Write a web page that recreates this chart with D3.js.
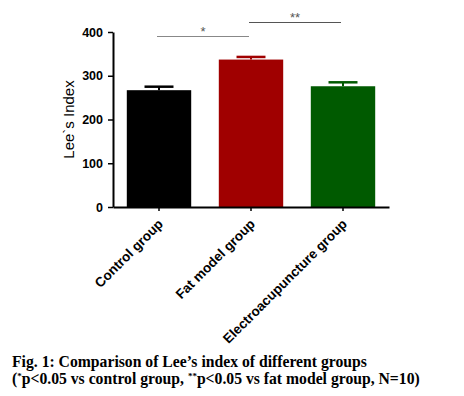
<!DOCTYPE html>
<html>
<head>
<meta charset="utf-8">
<script src="https://cdn.jsdelivr.net/npm/d3@7"></script>
<style>
  body { margin: 0; background: #fff; }
</style>
</head>
<body>
<script>
const groups = ["Control group", "Fat model group", "Electroacupuncture group"];
const means = [267, 337, 276];
const errors = [8, 6, 9];
const colors = ["#000000", "#a00000", "#005a00"];
const yTicks = [0, 100, 200, 300, 400];
const sigPairs = [
    {from: 0, to: 1, label: "*", level: 0},
    {from: 1, to: 2, label: "**", level: 1}
];

const width = 464;
const height = 396;
const plot = {left: 113, right: 389, top: 32, bottom: 207};

const svg = d3.select("body")
    .append("svg")
    .attr("width", width)
    .attr("height", height);

const xScale = d3.scaleBand()
    .domain(groups)
    .range([plot.left, plot.right])
    .paddingInner(0.3)
    .paddingOuter(0.15);

const yScale = d3.scaleLinear()
    .domain([0, 400])
    .range([plot.bottom, plot.top]);

// bars
svg.selectAll(".bar")
    .data(groups)
    .enter().append("rect")
    .attr("class", "bar")
    .attr("x", d => xScale(d))
    .attr("width", xScale.bandwidth())
    .attr("y", (d, i) => yScale(means[i]))
    .attr("height", (d, i) => plot.bottom - yScale(means[i]))
    .attr("fill", (d, i) => colors[i]);

// error bars (upper only)
const capW = xScale.bandwidth() * 0.45;
groups.forEach(function (g, i) {
    const cx = xScale(g) + xScale.bandwidth() / 2;
    svg.append("line")
        .attr("x1", cx).attr("x2", cx)
        .attr("y1", yScale(means[i]))
        .attr("y2", yScale(means[i] + errors[i]))
        .attr("stroke", colors[i])
        .attr("stroke-width", 2);
    svg.append("line")
        .attr("x1", cx - capW / 2).attr("x2", cx + capW / 2)
        .attr("y1", yScale(means[i] + errors[i]))
        .attr("y2", yScale(means[i] + errors[i]))
        .attr("stroke", colors[i])
        .attr("stroke-width", 2.5);
});

// Y axis
const yAxis = svg.append("g")
    .attr("transform", "translate(" + plot.left + ",0)")
    .call(d3.axisLeft(yScale).tickValues(yTicks).tickSize(5).tickPadding(5).tickSizeOuter(0));
yAxis.select(".domain").attr("stroke-width", 2);
yAxis.selectAll(".tick line").attr("stroke-width", 1.5);
yAxis.selectAll("text")
    .attr("font-family", "Liberation Sans, Arial, sans-serif")
    .attr("font-size", 12.5)
    .attr("font-weight", "bold")
    .attr("fill", "#000");

// X axis
const xAxis = svg.append("g")
    .attr("transform", "translate(0," + plot.bottom + ")")
    .call(d3.axisBottom(xScale).tickSize(4).tickSizeOuter(0));
xAxis.select(".domain").attr("stroke-width", 2);
xAxis.selectAll(".tick line").attr("stroke-width", 1.5);
xAxis.selectAll("text")
    .attr("font-family", "Liberation Sans, Arial, sans-serif")
    .attr("font-size", 13.5)
    .attr("font-weight", "bold")
    .attr("fill", "#000")
    .attr("text-anchor", "end")
    .attr("dy", "0")
    .attr("transform", "translate(0,13) rotate(-45)");

// Y title
svg.append("text")
    .attr("transform", "translate(74," + ((plot.top + plot.bottom) / 2) + ") rotate(-90)")
    .attr("text-anchor", "middle")
    .attr("font-family", "Liberation Sans, Arial, sans-serif")
    .attr("font-size", 15)
    .attr("fill", "#000")
    .text("Lee`s Index");

// significance brackets
sigPairs.forEach(function (p) {
    const x1 = xScale(groups[p.from]) + xScale.bandwidth() / 2;
    const x2 = xScale(groups[p.to]) + xScale.bandwidth() / 2;
    const y = p.level === 0 ? 36.5 : 22.5;
    svg.append("line")
        .attr("x1", x1 - 2).attr("x2", x2 - 2)
        .attr("y1", y).attr("y2", y)
        .attr("stroke", p.level === 0 ? "#888" : "#555")
        .attr("stroke-width", 1.2);
    svg.append("text")
        .attr("x", (x1 + x2) / 2 - 2)
        .attr("y", y - 0.5)
        .attr("text-anchor", "middle")
        .attr("font-family", "Liberation Sans, Arial, sans-serif")
        .attr("font-size", 13)
        .attr("fill", "#555")
        .text(p.label);
});

// caption
const cap = svg.append("g")
    .attr("font-family", "Liberation Serif, Times New Roman, serif")
    .attr("font-weight", "bold")
    .attr("font-size", 15.7)
    .attr("fill", "#000");
cap.append("text")
    .attr("x", 12).attr("y", 367)
    .text("Fig. 1: Comparison of Lee\u2019s index of different groups");
const line2 = cap.append("text").attr("x", 12).attr("y", 384);
line2.append("tspan").text("(");
line2.append("tspan").attr("font-size", 9).attr("dy", -5).text("*");
line2.append("tspan").attr("dy", 5).text("p<0.05 vs control group, ");
line2.append("tspan").attr("font-size", 9).attr("dy", -5).text("**");
line2.append("tspan").attr("dy", 5).text("p<0.05 vs fat model group, N=10)");
</script>
</body>
</html>
